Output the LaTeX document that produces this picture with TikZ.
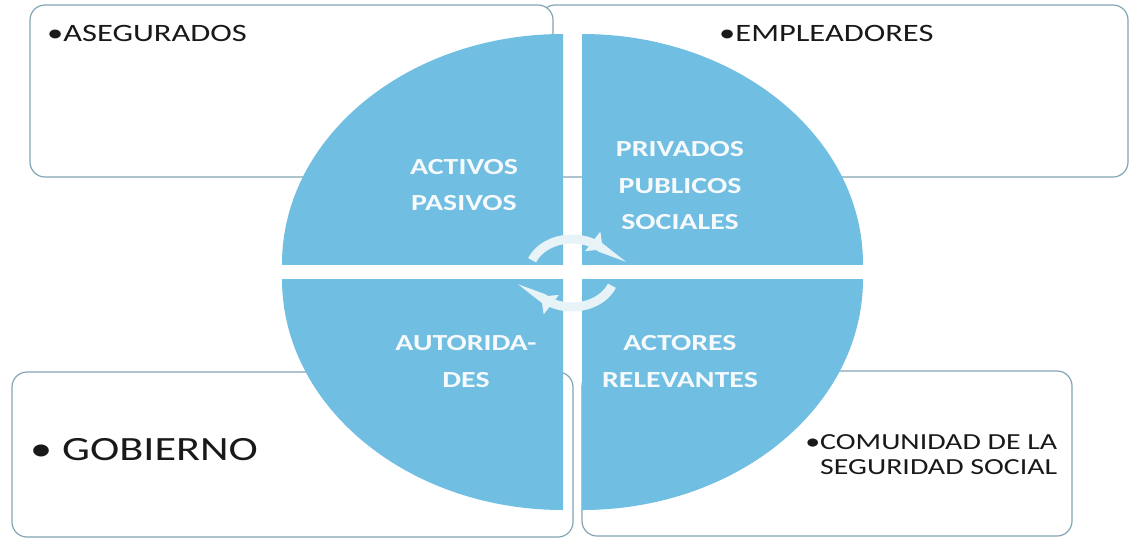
\documentclass[tikz,border=0pt]{standalone}
\usepackage{fontspec}
\setmainfont{Carlito}
\usetikzlibrary{arrows.meta}
\definecolor{quadblue}{RGB}{112,190,225}
\definecolor{boxline}{RGB}{130,165,182}
\definecolor{arrowc}{RGB}{232,243,248}
\definecolor{labeltext}{RGB}{246,250,252}
\definecolor{bodytext}{RGB}{25,25,25}
\newcommand{\sx}[1]{\scalebox{1.3}[1]{#1}}
\begin{document}
\begin{tikzpicture}[x=1pt,y=-1pt,
  outerbox/.style={draw=boxline, line width=1.2pt, fill=white, rounded corners=15pt},
  quad/.style={fill=quadblue},
  quadlabel/.style={text=labeltext, inner sep=0pt, font=\fontsize{23}{36.5}\selectfont\bfseries},
  itemlabel/.style={text=bodytext, inner sep=0pt, anchor=base west},
  cyclearrow/.style={draw=arrowc, line width=9pt, -{Triangle[width=24pt,length=13pt]}}]
\useasboundingbox (0,0) rectangle (1130,539);
% outer boxes
\path[outerbox] (540,5) rectangle (1128,177);
\path[outerbox] (30,5) rectangle (553,177);
\path[outerbox] (12,372) rectangle (573,537);
\path[outerbox] (582,371) rectangle (1072,536);
% quadrants
\begin{scope}
  \clip (0,0) rectangle (563,264);
  \fill[quad] (563,264) ellipse [x radius=281, y radius=230];
\end{scope}
\begin{scope}
  \clip (582,0) rectangle (1130,264);
  \fill[quad] (582,264) ellipse [x radius=281, y radius=230];
\end{scope}
\begin{scope}
  \clip (0,279) rectangle (563,539);
  \fill[quad] (563,279) ellipse [x radius=281, y radius=231];
\end{scope}
\begin{scope}
  \clip (582,279) rectangle (1130,539);
  \fill[quad] (582,279) ellipse [x radius=281, y radius=231];
\end{scope}
% cycle arrows
\draw[cyclearrow] plot[smooth, samples=30, domain=202:316] ({572+43*cos(\x)},{273+34*sin(\x)});
\draw[cyclearrow] plot[smooth, samples=30, domain=22:136] ({572+43*cos(\x)},{273+34*sin(\x)});
% quadrant labels
\node[quadlabel] (tl) at (464,185) {\sx{\begin{tabular}{@{}c@{}}ACTIVOS\\PASIVOS\end{tabular}}};
\node[quadlabel] (tr) at (680,186) {\sx{\begin{tabular}{@{}c@{}}PRIVADOS\\PUBLICOS\\SOCIALES\end{tabular}}};
\node[quadlabel] (bl) at (466,361.5) {\sx{\begin{tabular}{@{}c@{}}AUTORIDA-\\DES\end{tabular}}};
\node[quadlabel] (br) at (680,361.5) {\sx{\begin{tabular}{@{}c@{}}ACTORES\\RELEVANTES\end{tabular}}};
% outer labels
\node[itemlabel, font=\fontsize{25}{30}\selectfont] (aseg) at (47,41) {\sx{•ASEGURADOS}};
\node[itemlabel, font=\fontsize{25}{30}\selectfont] (empl) at (719,41) {\sx{•EMPLEADORES}};
\node[itemlabel, font=\fontsize{34}{40}\selectfont] (gob) at (30,460) {\sx{• GOBIERNO}};
\node[itemlabel, font=\fontsize{23}{25}\selectfont] (com) at (820,449) {\sx{\begin{tabular}[t]{@{}l@{}}\llap{•}COMUNIDAD DE LA\\SEGURIDAD SOCIAL\end{tabular}}};
\end{tikzpicture}
\end{document}
